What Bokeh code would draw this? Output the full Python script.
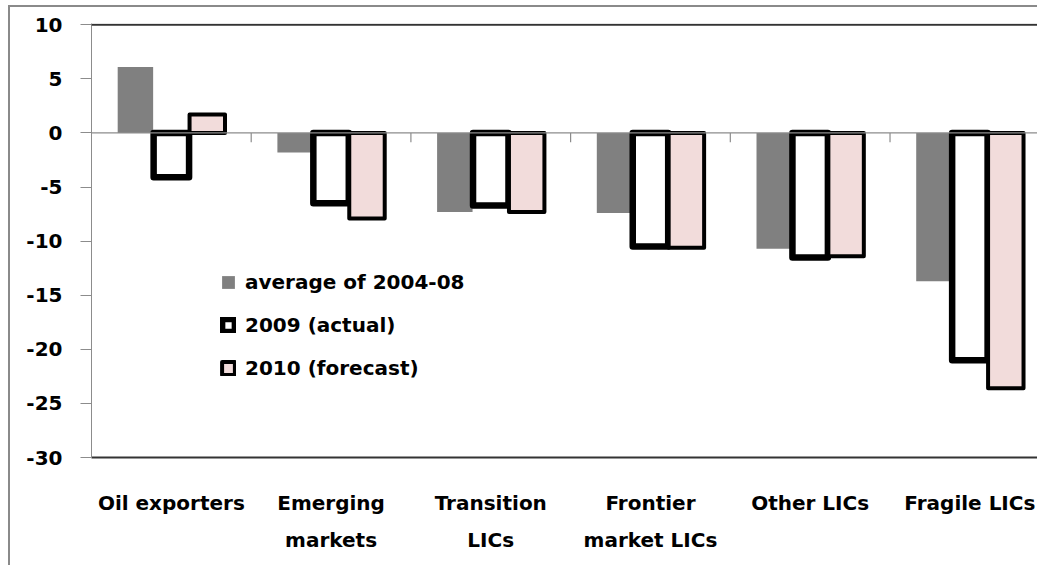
from bokeh.plotting import figure
from bokeh.models import Range1d, FixedTicker, Span, Legend, LegendItem, ColumnDataSource
from bokeh.embed import file_html
from bokeh.resources import INLINE

categories = ["Oil exporters", "Emerging\nmarkets", "Transition\nLICs",
              "Frontier\nmarket LICs", "Other LICs", "Fragile LICs"]
avg_2004_08 = [6.1, -1.8, -7.3, -7.4, -10.7, -13.7]
actual_2009 = [-4.1, -6.5, -6.7, -10.5, -11.5, -21.0]
forecast_2010 = [1.7, -7.9, -7.3, -10.6, -11.4, -23.6]
series_names = ["average of 2004-08", "2009 (actual)", "2010 (forecast)"]
y_ticks = [-30, -25, -20, -15, -10, -5, 0, 5, 10]
y_tick_labels = ["-30", "-25", "-20", "-15", "-10", "-5", "0", "5", "10"]

FONT = "DejaVu Sans"
FSIZE = "20px"
n = len(categories)
centers = [i + 0.5 for i in range(n)]
offset = 0.225
bar_w = 0.222

p = figure(width=1029, height=560, output_backend="svg", toolbar_location=None,
           x_range=Range1d(0, 5.936), y_range=Range1d(-30, 10.12),
           min_border_left=81, min_border_top=16, min_border_bottom=110, min_border_right=0)
p.styles = {"margin-left": "8px", "margin-top": "5px",
            "border-left": "2px solid #8a8a8a", "border-top": "2px solid #8a8a8a"}
p.outline_line_color = None
p.xgrid.visible = False
p.ygrid.visible = False
p.background_fill_color = "white"
p.border_fill_color = "white"

xa = p.below[0]
ya = p.left[0]

src = ColumnDataSource(dict(
    x=centers,
    x0=[c - offset for c in centers],
    x2=[c + offset for c in centers],
    avg=avg_2004_08, a09=actual_2009, f10=forecast_2010,
))

# zero line, top border line and category ticks
p.add_layout(Span(location=0, dimension="width", line_color="#8c8c8c", line_width=1.2))
p.add_layout(Span(location=y_ticks[-1], dimension="width", line_color="#333333", line_width=2))
bounds = list(range(1, n))
p.segment(x0=bounds, x1=bounds, y0=[0] * len(bounds), y1=[-0.85] * len(bounds),
          line_color="#8c8c8c", line_width=1.2)

r1 = p.vbar(x="x0", top="avg", bottom=0, width=bar_w, source=src,
            fill_color="#808080", line_color=None)
r2 = p.vbar(x="x", top="a09", bottom=0, width=bar_w, source=src,
            fill_color="white", line_color="black", line_width=6.5, line_join="round")
r3 = p.vbar(x="x2", top="f10", bottom=0, width=bar_w, source=src,
            fill_color="#F2DCDB", line_color="black", line_width=4, line_join="round")

# y axis
ya.ticker = FixedTicker(ticks=y_ticks)
ya.major_label_overrides = {t: s for t, s in zip(y_ticks, y_tick_labels)}
ya.axis_line_color = "#8c8c8c"
ya.major_tick_line_color = "#8c8c8c"
ya.major_tick_out = 11
ya.major_tick_in = 0
ya.minor_tick_line_color = None
ya.major_label_standoff = 18
ya.major_label_text_font = FONT
ya.major_label_text_font_size = FSIZE
ya.major_label_text_font_style = "bold"
ya.major_label_text_color = "black"

# x axis (category labels)
xa.ticker = FixedTicker(ticks=centers)
xa.major_label_overrides = {c: lab for c, lab in zip(centers, categories)}
xa.axis_line_color = "#333333"
xa.axis_line_width = 2
xa.major_tick_line_color = None
xa.minor_tick_line_color = None
xa.major_label_standoff = 27
xa.major_label_text_font = FONT
xa.major_label_text_font_size = FSIZE
xa.major_label_text_font_style = "bold"
xa.major_label_text_color = "black"
xa.major_label_text_line_height = 1.55

legend = Legend(items=[LegendItem(label=series_names[0], renderers=[r1]),
                       LegendItem(label=series_names[1], renderers=[r2]),
                       LegendItem(label=series_names[2], renderers=[r3])],
                location=(129, 77), orientation="vertical")
legend.border_line_color = None
legend.background_fill_alpha = 0
legend.padding = 0
legend.margin = 0
legend.glyph_width = 16
legend.glyph_height = 16
legend.label_standoff = 9
legend.spacing = 19
legend.label_text_font = FONT
legend.label_text_font_size = FSIZE
legend.label_text_font_style = "bold"
legend.label_text_color = "black"
p.add_layout(legend)

open("out.html", "w").write(file_html(p, INLINE))
